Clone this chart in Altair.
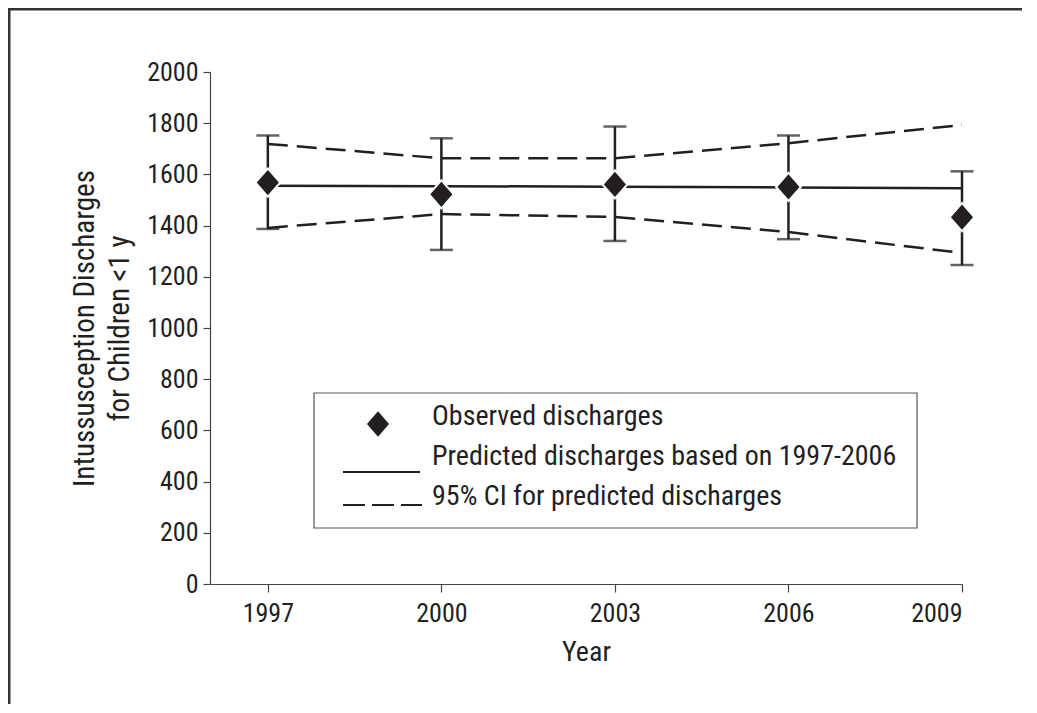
import altair as alt
import pandas as pd

years = [1997, 2000, 2003, 2006, 2009]
observed = [1568, 1522, 1561, 1551, 1433]
err_low = [1387, 1305, 1340, 1347, 1246]
err_high = [1752, 1741, 1787, 1752, 1612]
predicted = [1556, 1554, 1552, 1549, 1546]
pred_low = [1391, 1445, 1434, 1375, 1293]
pred_high = [1719, 1663, 1663, 1722, 1793]
y_ticks = list(range(0, 2001, 200))
legend_labels = [
    "Observed discharges",
    "Predicted discharges based on 1997-2006",
    "95% CI for predicted discharges",
]

df = pd.DataFrame({
    "year": years,
    "observed": observed,
    "err_low": err_low,
    "err_high": err_high,
    "predicted": predicted,
    "pred_low": pred_low,
    "pred_high": pred_high,
})

FONT = "Roboto Condensed, DejaVu Sans Condensed, sans-serif"
INK = "#231f20"
DIAMOND = "M0,-0.32L0.28,0L0,0.32L-0.28,0Z"
SYM_SIZE = 6241
YTITLE = ["Intussusception Discharges", "for Children <1 y"]

xscale = alt.Scale(domain=[1996, 2009], nice=False, zero=False)
yscale = alt.Scale(domain=[0, 2000], nice=False)
xaxis = alt.Axis(values=years, format="d", title="Year", grid=False,
                 tickSize=8, labelPadding=8, titlePadding=12, titleFontSize=28)
yaxis = alt.Axis(values=y_ticks, format="d", title=YTITLE,
                 grid=False, tickSize=7, labelPadding=5, titlePadding=12,
                 titleFontSize=29, titleLineHeight=35)


def X():
    return alt.X("year:Q", scale=xscale, axis=xaxis, title="Year")


def Y(field):
    return alt.Y(f"{field}:Q", scale=yscale, axis=yaxis, title=YTITLE)


base = alt.Chart(df)

ci = base.transform_fold(["pred_low", "pred_high"], as_=["bound", "val"]).mark_line(
    color=INK, strokeWidth=2.5, strokeDash=[20, 9]
).encode(x=X(), y=Y("val"), detail="bound:N")

pred = base.mark_line(color=INK, strokeWidth=2.5).encode(x=X(), y=Y("predicted"))

bars = base.mark_rule(color=INK, strokeWidth=2.5).encode(
    x=X(), y=Y("err_low"), y2="err_high:Q")

caps = base.transform_fold(["err_low", "err_high"], as_=["end", "val"]).mark_tick(
    color=INK, orient="horizontal", size=23, thickness=2.5
).encode(x=X(), y=Y("val"))

halo = base.mark_point(
    shape=DIAMOND, size=SYM_SIZE, filled=True, fill=INK, stroke="white",
    strokeWidth=4, opacity=1
).encode(x=X(), y=Y("observed"))

pts = base.mark_point(shape=DIAMOND, filled=True, color=INK, size=SYM_SIZE, opacity=1).encode(
    x=X(), y=Y("observed"))

# ---- legend (boxed key inside the plot) ----
one = pd.DataFrame({"k": [0]})
leg_box = alt.Chart(one).mark_rect(fill="white", stroke="#555555", strokeWidth=1.2).encode(
    x=alt.value(104), x2=alt.value(707), y=alt.value(321), y2=alt.value(456))
leg_diamond = alt.Chart(one).mark_point(
    shape=DIAMOND, filled=True, color=INK, size=SYM_SIZE, opacity=1).encode(
    x=alt.value(168), y=alt.value(352))
leg_solid = alt.Chart(one).mark_rule(color=INK, strokeWidth=2).encode(
    x=alt.value(133), x2=alt.value(210), y=alt.value(400))
leg_dash = alt.Chart(one).mark_rule(color=INK, strokeWidth=2, strokeDash=[22, 7]).encode(
    x=alt.value(133), x2=alt.value(212), y=alt.value(433))
leg_texts = []
for lbl, yy in zip(legend_labels, [353, 393, 433]):
    leg_texts.append(
        alt.Chart(pd.DataFrame({"label": [lbl]})).mark_text(
            font=FONT, fontSize=28, color=INK, align="left", baseline="alphabetic"
        ).encode(x=alt.value(222), y=alt.value(yy), text="label:N"))

# figure frame (top and left border of the cropped figure)
frame_top = alt.Chart(one).mark_rule(color="#333333", strokeWidth=3).encode(
    x=alt.value(-202), x2=alt.value(812), y=alt.value(-63))
frame_left = alt.Chart(one).mark_rule(color="#333333", strokeWidth=3).encode(
    x=alt.value(-201), y=alt.value(-63), y2=alt.value(650))

chart = alt.layer(
    ci, pred, bars, caps, halo, pts,
    leg_box, leg_diamond, leg_solid, leg_dash, *leg_texts,
    frame_top, frame_left,
).properties(
    width=752, height=512,
    padding={"left": 202, "top": 64, "right": 67, "bottom": 120},
    autosize=alt.AutoSizeParams(type="none"),
    background="white",
).configure_view(stroke=None).configure_axis(
    labelFont=FONT, titleFont=FONT, labelFontSize=26,
    labelColor=INK, titleColor=INK, titleFontWeight="normal",
    domainColor="#444444", tickColor="#444444", domainWidth=1.2, tickWidth=1.2,
)

chart.save("out.html", embed_options={"renderer": "svg", "actions": False})
